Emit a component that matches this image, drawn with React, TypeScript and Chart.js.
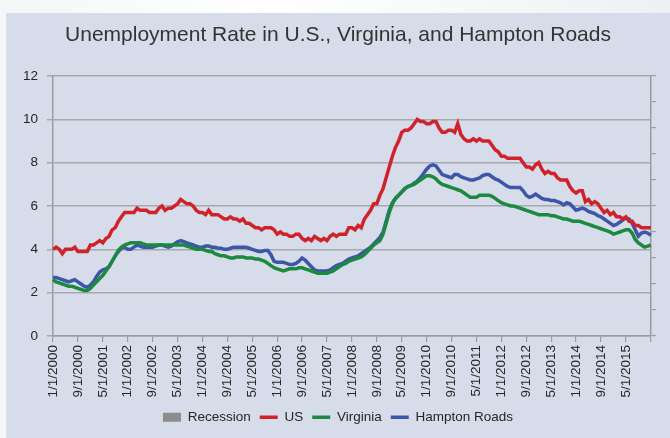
import { useEffect, useRef } from "react";
import { Chart, registerables } from "chart.js";

Chart.register(...registerables);

// Monthly categories Jan 2000 .. Jan 2016
const categories: string[] = [];
for (let y = 2000; y <= 2016; y++) {
  for (let m = 1; m <= 12; m++) {
    if (y === 2016 && m > 1) break;
    categories.push(`${m}/1/${y}`);
  }
}

const yTicks = [0, 2, 4, 6, 8, 10, 12];

const recession: number[] = [];

const usRate = [
  4.0, 4.1, 4.0, 3.8, 4.0, 4.0, 4.0, 4.1, 3.9, 3.9, 3.9, 3.9,
  4.2, 4.2, 4.3, 4.4, 4.3, 4.5, 4.6, 4.9, 5.0, 5.3, 5.5, 5.7,
  5.7, 5.7, 5.7, 5.9, 5.8, 5.8, 5.8, 5.7, 5.7, 5.7, 5.9, 6.0,
  5.8, 5.9, 5.9, 6.0, 6.1, 6.3, 6.2, 6.1, 6.1, 6.0, 5.8, 5.7,
  5.7, 5.6, 5.8, 5.6, 5.6, 5.6, 5.5, 5.4, 5.4, 5.5, 5.4, 5.4,
  5.3, 5.4, 5.2, 5.2, 5.1, 5.0, 5.0, 4.9, 5.0, 5.0, 5.0, 4.9,
  4.7, 4.8, 4.7, 4.7, 4.6, 4.6, 4.7, 4.7, 4.5, 4.4, 4.5, 4.4,
  4.6, 4.5, 4.4, 4.5, 4.4, 4.6, 4.7, 4.6, 4.7, 4.7, 4.7, 5.0,
  5.0, 4.9, 5.1, 5.0, 5.4, 5.6, 5.8, 6.1, 6.1, 6.5, 6.8, 7.3,
  7.8, 8.3, 8.7, 9.0, 9.4, 9.5, 9.5, 9.6, 9.8, 10.0, 9.9, 9.9,
  9.8, 9.8, 9.9, 9.9, 9.6, 9.4, 9.4, 9.5, 9.5, 9.4, 9.8, 9.3,
  9.1, 9.0, 9.0, 9.1, 9.0, 9.1, 9.0, 9.0, 9.0, 8.8, 8.6, 8.5,
  8.3, 8.3, 8.2, 8.2, 8.2, 8.2, 8.2, 8.0, 7.8, 7.8, 7.7, 7.9,
  8.0, 7.7, 7.5, 7.6, 7.5, 7.5, 7.3, 7.2, 7.2, 7.2, 6.9, 6.7,
  6.6, 6.7, 6.7, 6.2, 6.3, 6.1, 6.2, 6.1, 5.9, 5.7, 5.8, 5.6,
  5.7, 5.5, 5.5, 5.4, 5.5, 5.3, 5.3, 5.1, 5.1, 5.0, 5.0, 5.0,
  5.0,
];

const virginiaRate = [
  2.6, 2.5, 2.45, 2.4, 2.35, 2.3, 2.3, 2.25, 2.2, 2.15, 2.1, 2.1,
  2.2, 2.35, 2.5, 2.65, 2.8, 3.0, 3.2, 3.45, 3.7, 3.95, 4.1, 4.2,
  4.25, 4.3, 4.3, 4.3, 4.3, 4.25, 4.2, 4.2, 4.2, 4.2, 4.2, 4.2,
  4.2, 4.2, 4.2, 4.2, 4.2, 4.2, 4.2, 4.15, 4.1, 4.05, 4.0, 4.0,
  4.0, 3.95, 3.9, 3.9, 3.8, 3.75, 3.7, 3.7, 3.65, 3.6, 3.6, 3.65,
  3.65, 3.65, 3.6, 3.6, 3.6, 3.55, 3.55, 3.5, 3.45, 3.35, 3.25, 3.15,
  3.1, 3.05, 3.0, 3.05, 3.1, 3.1, 3.1, 3.15, 3.15, 3.1, 3.05, 3.0,
  2.95, 2.9, 2.9, 2.9, 2.9, 2.95, 3.0, 3.1, 3.2, 3.3, 3.35, 3.45,
  3.5, 3.55, 3.6, 3.65, 3.75, 3.9, 4.05, 4.2, 4.3, 4.4, 4.7, 5.2,
  5.7, 6.1, 6.35, 6.5, 6.65, 6.8, 6.9, 6.95, 7.0, 7.1, 7.2, 7.3,
  7.4, 7.4, 7.35, 7.25, 7.1, 7.0, 6.95, 6.9, 6.85, 6.8, 6.75, 6.7,
  6.6, 6.5, 6.4, 6.4, 6.4, 6.5, 6.5, 6.5, 6.5, 6.45, 6.35, 6.25,
  6.15, 6.1, 6.05, 6.0, 6.0, 5.95, 5.9, 5.85, 5.8, 5.75, 5.7, 5.65,
  5.6, 5.6, 5.6, 5.6, 5.55, 5.55, 5.5, 5.45, 5.4, 5.4, 5.35, 5.3,
  5.3, 5.3, 5.25, 5.2, 5.15, 5.1, 5.05, 5.0, 4.95, 4.9, 4.85, 4.8,
  4.7, 4.75, 4.8, 4.85, 4.9, 4.9, 4.75, 4.45, 4.3, 4.2, 4.1, 4.15,
  4.2,
];

const hamptonRoadsRate = [
  2.7, 2.7, 2.65, 2.6, 2.55, 2.5, 2.55, 2.6, 2.5, 2.4, 2.3, 2.25,
  2.35, 2.5, 2.75, 2.95, 3.05, 3.1, 3.2, 3.45, 3.7, 3.9, 4.05, 4.1,
  4.0, 4.0, 4.1, 4.2, 4.15, 4.1, 4.1, 4.1, 4.1, 4.15, 4.2, 4.2,
  4.15, 4.1, 4.15, 4.25, 4.35, 4.4, 4.35, 4.3, 4.25, 4.2, 4.15, 4.1,
  4.1, 4.15, 4.15, 4.1, 4.1, 4.05, 4.05, 4.0, 4.0, 4.05, 4.1, 4.1,
  4.1, 4.1, 4.1, 4.05, 4.0, 3.95, 3.9, 3.9, 3.95, 3.95, 3.75, 3.45,
  3.4, 3.4, 3.4, 3.35, 3.3, 3.3, 3.35, 3.45, 3.6, 3.5, 3.35, 3.2,
  3.05, 3.0, 3.0, 3.0, 3.0, 3.05, 3.15, 3.25, 3.3, 3.35, 3.45, 3.55,
  3.6, 3.65, 3.7, 3.8, 3.9, 4.0, 4.1, 4.25, 4.4, 4.55, 4.8, 5.3,
  5.8, 6.15, 6.35, 6.5, 6.65, 6.8, 6.9, 6.95, 7.05, 7.15, 7.3, 7.5,
  7.7, 7.85, 7.9, 7.85, 7.65, 7.45, 7.4, 7.35, 7.3, 7.45, 7.45, 7.35,
  7.3, 7.25, 7.2, 7.2, 7.25, 7.3, 7.4, 7.45, 7.45, 7.35, 7.25, 7.2,
  7.1, 7.0, 6.9, 6.85, 6.85, 6.85, 6.85, 6.7, 6.5, 6.4, 6.45, 6.55,
  6.45, 6.35, 6.3, 6.3, 6.25, 6.25, 6.2, 6.15, 6.05, 6.15, 6.1, 5.95,
  5.8, 5.85, 5.9, 5.85, 5.75, 5.7, 5.65, 5.55, 5.5, 5.4, 5.3, 5.2,
  5.1, 5.15, 5.25, 5.35, 5.45, 5.4, 5.2, 4.9, 4.6, 4.75, 4.8, 4.75,
  4.65,
];

const FONT = '"Liberation Sans", Arial, sans-serif';
const AXIS_GRAY = "#9a9ca2";
const GRID_GRAY = "#a6a8ad";
const TEXT = "#262626";

export default function App() {
  const canvasRef = useRef<HTMLCanvasElement | null>(null);

  useEffect(() => {
    document.body.style.margin = "0";
    const canvas = canvasRef.current;
    if (!canvas) return;
    const chart = new Chart(canvas, {
      type: "line",
      data: {
        labels: categories,
        datasets: [
          {
            type: "bar",
            label: "Recession",
            data: recession,
            backgroundColor: "#8c8c8c",
            yAxisID: "y2",
          } as any,
          {
            label: "US",
            data: usRate,
            borderColor: "#d0222b",
            backgroundColor: "#d0222b",
            borderWidth: 3.5,
            pointRadius: 0,
            tension: 0,
            yAxisID: "y",
          },
          {
            label: "Virginia",
            data: virginiaRate,
            borderColor: "#1b8a3f",
            backgroundColor: "#1b8a3f",
            borderWidth: 3.5,
            pointRadius: 0,
            tension: 0,
            yAxisID: "y",
          },
          {
            label: "Hampton Roads",
            data: hamptonRoadsRate,
            borderColor: "#3c56a8",
            backgroundColor: "#3c56a8",
            borderWidth: 3.5,
            pointRadius: 0,
            tension: 0,
            yAxisID: "y",
          },
        ],
      },
      options: {
        animation: false,
        responsive: true,
        maintainAspectRatio: false,
        layout: { padding: { left: 0, right: 0, top: 0, bottom: 4 } },
        scales: {
          x: {
            type: "category",
            offset: false,
            grid: {
              offset: false,
              drawOnChartArea: false,
              tickLength: 6,
              color: (c: any) => (c.index % 8 === 0 ? AXIS_GRAY : "rgba(0,0,0,0)"),
              lineWidth: 1.2,
            },
            border: { color: AXIS_GRAY, width: 1.5 },
            ticks: {
              autoSkip: false,
              maxRotation: 90,
              minRotation: 90,
              padding: 3,
              color: TEXT,
              font: { family: FONT, size: 13.5 },
              callback: (_v: any, i: number) => (i % 8 === 0 && i < 192 ? categories[i] : ""),
            },
            afterFit: (s: any) => {
              s.height = 65.5;
            },
          },
          y: {
            position: "left",
            min: 0,
            max: 12,
            afterBuildTicks: (s: any) => {
              s.ticks = yTicks.map((v) => ({ value: v }));
            },
            grid: { color: GRID_GRAY, lineWidth: 1.5, tickLength: 6 },
            border: { color: AXIS_GRAY, width: 1.5 },
            ticks: {
              padding: 9,
              color: TEXT,
              font: { family: FONT, size: 13.5 },
            },
            afterFit: (s: any) => {
              s.width = 47;
            },
          },
          y2: {
            position: "right",
            min: 0,
            max: 10,
            ticks: { display: false, stepSize: 1 },
            grid: { drawOnChartArea: false, color: AXIS_GRAY, lineWidth: 1.2, tickLength: 5 },
            border: { color: AXIS_GRAY, width: 1.5 },
            afterFit: (s: any) => {
              s.width = 17;
            },
          },
        },
        plugins: {
          title: {
            display: true,
            text: "Unemployment Rate in U.S., Virginia, and Hampton Roads",
            color: "#333333",
            font: { family: FONT, size: 21, weight: "normal" },
            padding: { top: 10, bottom: 27.8 },
          },
          legend: {
            position: "bottom",
            labels: {
              usePointStyle: true,
              pointStyleWidth: 18,
              boxHeight: 9,
              padding: 9,
              color: TEXT,
              font: { family: FONT, size: 13.5 },
              generateLabels: (ch: any) =>
                ch.data.datasets.map((d: any, i: number) => ({
                  text: d.label,
                  fillStyle: i === 0 ? "#8c8c8c" : d.borderColor,
                  strokeStyle: i === 0 ? "#8c8c8c" : d.borderColor,
                  lineWidth: i === 0 ? 0 : 3.5,
                  pointStyle: i === 0 ? "rect" : "line",
                  hidden: false,
                  datasetIndex: i,
                  fontColor: TEXT,
                })),
            },
          },
          tooltip: { enabled: false },
        },
      },
    });
    return () => chart.destroy();
  }, []);

  return (
    <div
      style={{
        position: "fixed",
        left: 0,
        top: 0,
        width: 670,
        height: 438,
        background: "linear-gradient(90deg, #f4f6f8 0%, #ffffff 40%, #eef1f4 100%)",
        overflow: "hidden",
      }}
    >
      <div
        style={{
          position: "absolute",
          left: 6,
          top: 13,
          width: 664,
          height: 425,
          background: "#d6dce9",
        }}
      >
        <canvas ref={canvasRef} />
      </div>
    </div>
  );
}
